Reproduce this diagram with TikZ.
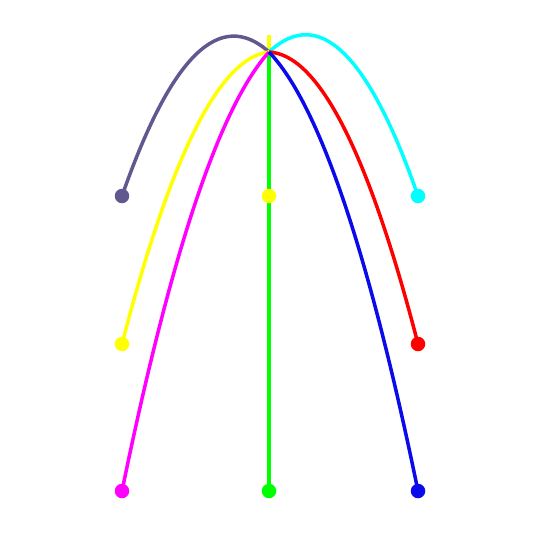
\documentclass[tikz,border=0pt]{standalone}
\usepackage{xcolor}
\usepackage{tikz}
\definecolor{slate}{RGB}{96,88,142}
\definecolor{pureblue}{RGB}{10,10,235}
\definecolor{pureyellow}{RGB}{255,255,0}
\definecolor{purecyan}{RGB}{0,255,255}
\definecolor{puremagenta}{RGB}{255,0,255}
\definecolor{puregreen}{RGB}{0,255,0}
\definecolor{purered}{RGB}{255,0,0}

\begin{document}
\begin{tikzpicture}[
    x=0.02cm, y=-0.02cm,
    track/.style={line width=2pt},
    dot/.style={circle, inner sep=0pt, minimum size=0.29cm}
]
\useasboundingbox (0,0) rectangle (557,542);

% launch point and landing points
\coordinate (top) at (269,52);
\coordinate (peak) at (269,35);
\coordinate (pslate) at (122,196);
\coordinate (pmid) at (269,196);
\coordinate (pcyan) at (418,196);
\coordinate (pyellow) at (122,344);
\coordinate (pred) at (418,344);
\coordinate (pmag) at (122,491);
\coordinate (pgreen) at (269,491);
\coordinate (pblue) at (418,491);

% straight up and down
\draw[track, pureyellow] (peak) -- (pmid);
\draw[track, puregreen] (top) -- (pgreen);

% upper pair
\draw[track, slate] (top) .. controls (220,7.8) and (171,55.8) .. (pslate);
\draw[track, purecyan] (top) .. controls (318.7,5.3) and (368.3,53.3) .. (pcyan);

% middle pair
\draw[track, pureyellow] (top) .. controls (220,57.1) and (171,154.4) .. (pyellow);
\draw[track, purered] (top) .. controls (318.7,54.6) and (368.3,151.9) .. (pred);

% lower pair
\draw[track, puremagenta] (top) .. controls (220,106.1) and (171,252.4) .. (pmag);
\draw[track, pureblue] (top) .. controls (318.7,103.6) and (368.3,250.0) .. (pblue);

% dots
\node[dot, fill=slate] (eslate) at (pslate) {};
\node[dot, fill=pureyellow] (emid) at (pmid) {};
\node[dot, fill=purecyan] (ecyan) at (pcyan) {};
\node[dot, fill=pureyellow] (eyellow) at (pyellow) {};
\node[dot, fill=purered] (ered) at (pred) {};
\node[dot, fill=puremagenta] (emag) at (pmag) {};
\node[dot, fill=puregreen] (egreen) at (pgreen) {};
\node[dot, fill=pureblue] (eblue) at (pblue) {};

\end{tikzpicture}
\end{document}
